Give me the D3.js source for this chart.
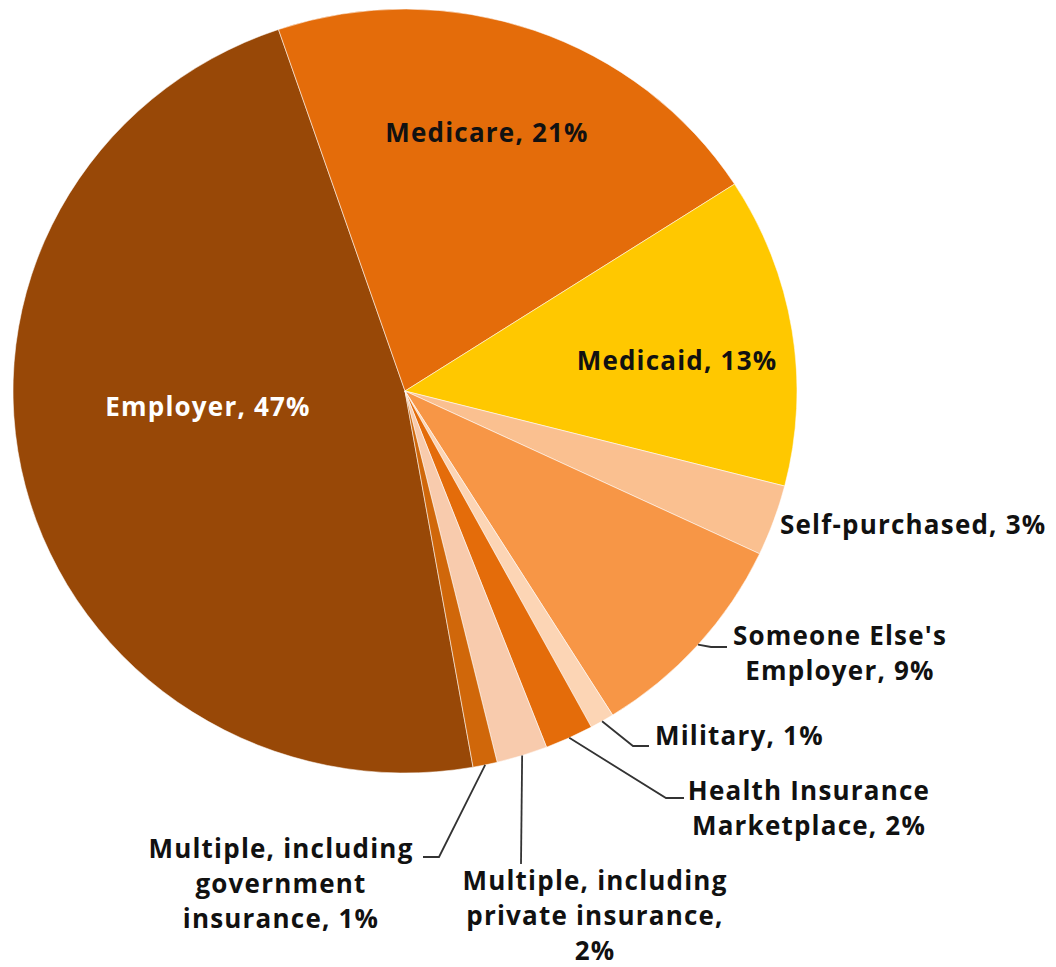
<!DOCTYPE html>
<html>
<head>
<meta charset="utf-8">
<script src="https://cdn.jsdelivr.net/npm/d3@7"></script>
<style>
  html, body { margin: 0; padding: 0; background: #fff; }
  svg { display: block; }
  text { font-family: "Open Sans", "Noto Sans", sans-serif; font-weight: 700; }
</style>
</head>
<body>
<svg id="chart" width="1056" height="967"></svg>
<script>
// ---- data ----
const categories = [
  "Employer", "Medicare", "Medicaid", "Self-purchased",
  "Someone Else's Employer", "Military", "Health Insurance Marketplace",
  "Multiple, including private insurance", "Multiple, including government insurance"
];
const shares = [47.5, 21.1, 13.1, 3.0, 9.1, 1.0, 2.0, 2.1, 1.0];
const labelPct = ["47%", "21%", "13%", "3%", "9%", "1%", "2%", "2%", "1%"];
const labelLines = [
  ["Employer, 47%"],
  ["Medicare, 21%"],
  ["Medicaid, 13%"],
  ["Self-purchased, 3%"],
  ["Someone Else's", "Employer, 9%"],
  ["Military, 1%"],
  ["Health Insurance", "Marketplace, 2%"],
  ["Multiple, including", "private insurance,", "2%"],
  ["Multiple, including", "government", "insurance, 1%"]
];
const colors = ["#984807", "#E46C0A", "#FFC800", "#FAC090", "#F79646",
                "#FCD5B5", "#E46C0A", "#F8CBAD", "#D0670A"];

// ---- layout (positions only) ----
const W = 1056, H = 967;
const cx = 405, cy = 391, rx = 392, ry = 382;
const startDeg = 170.0;
// label anchor: [x, firstBaseline, textAnchor, fill]
const labelPos = [
  [208, 416, "middle", "#ffffff"],
  [487, 142, "middle", "#111111"],
  [677, 370, "middle", "#111111"],
  [780, 534, "start", "#111111"],
  [840, 645, "middle", "#111111"],
  [655, 745, "start", "#111111"],
  [809, 800, "middle", "#111111"],
  [595, 890, "middle", "#111111"],
  [281, 858, "middle", "#111111"]
];
// leader elbow and end points (null = no leader)
const leaders = [
  null, null, null, null,
  [[711, 647], [727, 647]],
  [[633, 746], [649, 746]],
  [[666, 798], [684, 798]],
  [[521, 864]],
  [[439, 857], [423, 857]]
];
const lineH = 35;

const svg = d3.select("#chart");

const pie = d3.pie().sort(null).value(d => d)
  .startAngle(startDeg * Math.PI / 180)
  .endAngle(startDeg * Math.PI / 180 + 2 * Math.PI);
const arcs = pie(shares);
const arc = d3.arc().innerRadius(0).outerRadius(rx);

const g = svg.append("g")
  .attr("transform", `translate(${cx},${cy}) scale(1,${ry / rx})`);

g.selectAll("path").data(arcs).join("path")
  .attr("d", arc)
  .attr("fill", (d, i) => colors[i])
  .attr("stroke", "#ffffff")
  .attr("stroke-opacity", 0.55)
  .attr("stroke-width", 1);

// leader lines
const leaderG = svg.append("g");
arcs.forEach((d, i) => {
  if (!leaders[i]) return;
  const mid = (d.startAngle + d.endAngle) / 2;
  const sx = cx + rx * Math.sin(mid);
  const sy = cy - ry * Math.cos(mid);
  const pts = [[sx, sy]].concat(leaders[i]);
  leaderG.append("path")
    .attr("d", d3.line()(pts))
    .attr("fill", "none")
    .attr("stroke", "#333333")
    .attr("stroke-width", 1.8);
});

// labels
const labG = svg.append("g");
labelLines.forEach((lines, i) => {
  const [x, y, anchor, fill] = labelPos[i];
  const t = labG.append("text")
    .attr("x", x).attr("y", y)
    .attr("text-anchor", anchor)
    .attr("fill", fill)
    .attr("font-size", 26)
    .attr("letter-spacing", 1.2);
  lines.forEach((ln, j) => {
    t.append("tspan").attr("x", x).attr("y", y + j * lineH).text(ln);
  });
});
</script>
</body>
</html>
